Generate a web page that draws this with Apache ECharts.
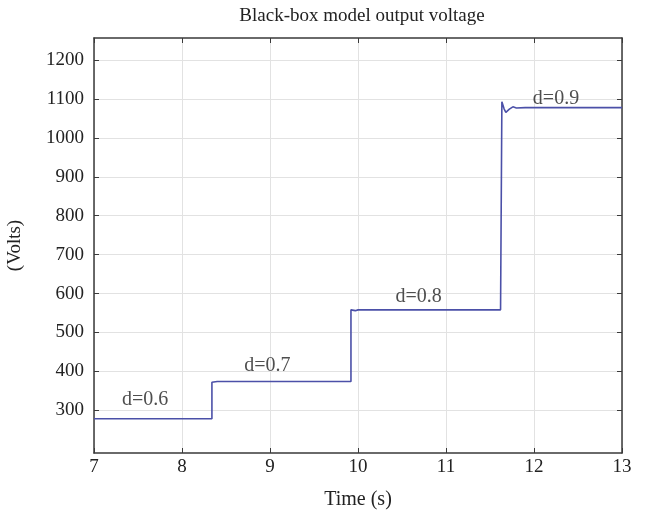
<!DOCTYPE html>
<html>
<head>
<meta charset="utf-8">
<script src="https://cdn.jsdelivr.net/npm/echarts@6/dist/echarts.min.js"></script>
<style>
html,body{margin:0;padding:0;background:#fff;}
#chart{width:653px;height:511px;}
</style>
</head>
<body>
<div id="chart"></div>
<script>
// Time (s) and voltage (V)
var timePoints = [7.0, 8.34, 8.34, 8.36, 8.40, 9.92, 9.92, 9.94, 9.97, 10.00, 11.62, 11.635, 11.66, 11.68, 11.72, 11.76, 11.80, 11.90, 13.0];
var voltPoints = [278, 278, 372, 375, 374, 374, 558, 561, 556, 558, 558, 1093, 1075, 1066, 1074, 1080, 1077, 1078, 1078];

var yTicks = [300, 400, 500, 600, 700, 800, 900, 1000, 1100, 1200];
var xTicks = [7, 8, 9, 10, 11, 12, 13];

var labelTexts = ['d=0.6', 'd=0.7', 'd=0.8', 'd=0.9'];
var labelTimes = [7.58, 8.97, 10.69, 12.25];
var labelVolts = [327, 415, 592, 1100];

var lineData = timePoints.map(function (t, i) { return [t, voltPoints[i]]; });
var labelData = labelTexts.map(function (s, i) { return { value: [labelTimes[i], labelVolts[i]], name: s }; });

var serif = '"Liberation Serif", "DejaVu Serif", serif';
var axisColor = '#3a3a3a';
var plain = function (v) { return String(v); };

var chart = echarts.init(document.getElementById('chart'), null, { renderer: 'canvas' });
chart.setOption({
  animation: false,
  backgroundColor: '#ffffff',
  title: {
    text: 'Black-box model output voltage',
    left: 357, top: 2, textAlign: 'center',
    textStyle: { fontFamily: serif, fontSize: 19, fontWeight: 'normal', color: '#222' }
  },
  grid: { left: 94, top: 38, right: 31, bottom: 58, containLabel: false, outerBoundsMode: 'none' },
  xAxis: [{
    type: 'value', min: 7, max: 13, interval: 1, position: 'bottom',
    name: 'Time (s)', nameLocation: 'middle', nameGap: 37,
    nameTextStyle: { fontFamily: serif, fontSize: 20, color: '#222' },
    axisLine: { show: true, lineStyle: { color: axisColor, width: 1.5 } },
    axisTick: { show: true, inside: true, length: 5, lineStyle: { color: axisColor } },
    axisLabel: { fontFamily: serif, fontSize: 19, color: '#222', margin: 5, formatter: plain },
    splitLine: { show: true, lineStyle: { color: '#e2e2e2', width: 1 } }
  }, {
    type: 'value', min: 7, max: 13, interval: 1, position: 'top',
    axisLine: { show: true, lineStyle: { color: axisColor, width: 1.5 } },
    axisTick: { show: true, inside: true, length: 5, lineStyle: { color: axisColor } },
    axisLabel: { show: false }, splitLine: { show: false }
  }],
  yAxis: [{
    type: 'value', min: 190, max: 1257, position: 'left',
    name: '(Volts)', nameLocation: 'middle', nameGap: 69, nameRotate: 90,
    nameTextStyle: { fontFamily: serif, fontSize: 19, color: '#222' },
    axisLine: { show: true, lineStyle: { color: axisColor, width: 1.5 } },
    axisTick: { show: true, inside: true, length: 5, customValues: yTicks, lineStyle: { color: axisColor } },
    axisLabel: { fontFamily: serif, fontSize: 19, color: '#222', margin: 10, customValues: yTicks, formatter: plain },
    splitLine: { show: true, lineStyle: { color: '#e2e2e2', width: 1 } }
  }, {
    type: 'value', min: 190, max: 1257, position: 'right',
    axisLine: { show: true, lineStyle: { color: axisColor, width: 1.5 } },
    axisTick: { show: true, inside: true, length: 5, customValues: yTicks, lineStyle: { color: axisColor } },
    axisLabel: { show: false, customValues: yTicks }, splitLine: { show: false }
  }],
  series: [{
    type: 'line', xAxisIndex: 0, yAxisIndex: 0,
    data: lineData, showSymbol: false, symbol: 'none',
    lineStyle: { color: '#4b50a8', width: 1.6 }
  }, {
    type: 'scatter', xAxisIndex: 0, yAxisIndex: 0,
    data: labelData, symbolSize: 0,
    label: {
      show: true, position: 'inside', formatter: '{b}',
      fontFamily: serif, fontSize: 20, color: '#222'
    },
    silent: true
  }]
});
</script>
</body>
</html>
